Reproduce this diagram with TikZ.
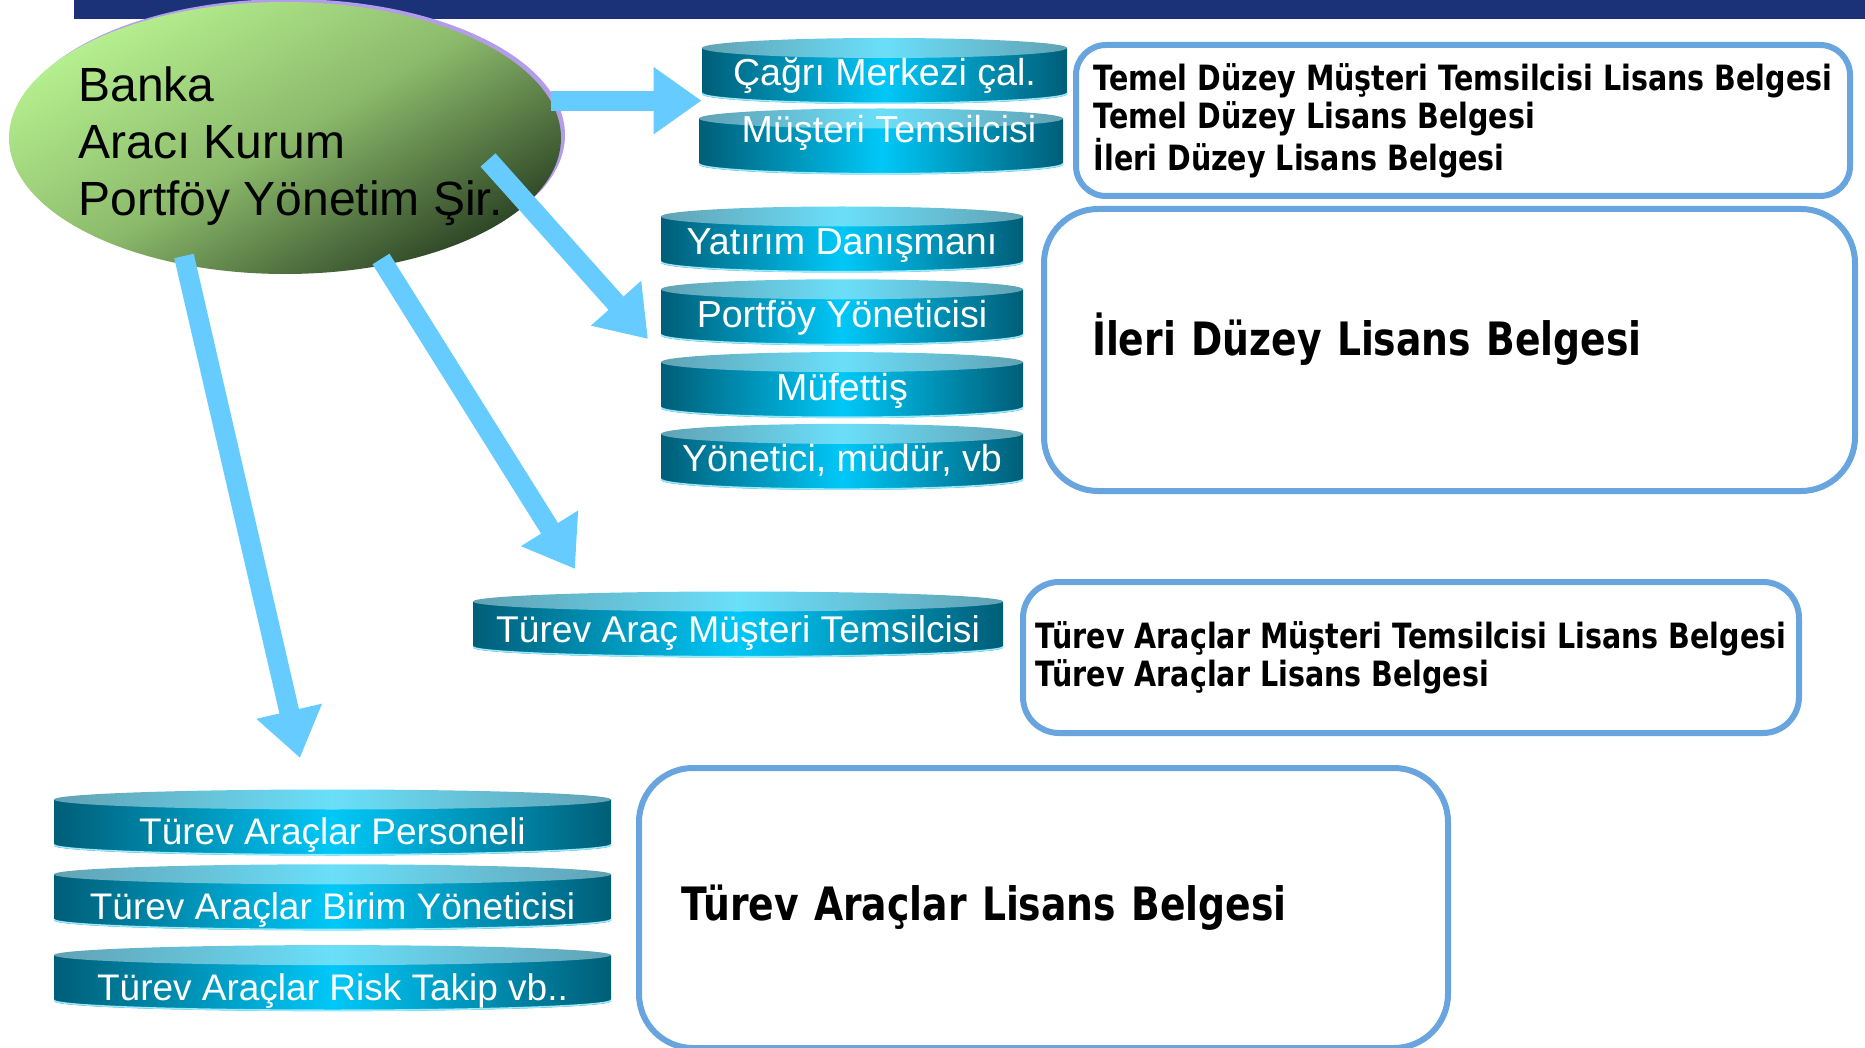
\documentclass[tikz,border=0pt]{standalone}
\usepackage{fontspec}
\setmainfont{Liberation Sans}
\newfontfamily\boxfont[FakeStretch=0.82]{DejaVu Sans}
\usetikzlibrary{positioning,shapes.geometric,arrows.meta,calc}

\definecolor{navy}{HTML}{1B3279}
\definecolor{arrowblue}{HTML}{66CCFF}
\definecolor{boxblue}{HTML}{68A4DE}
\definecolor{tealdark}{HTML}{005E78}
\definecolor{tealmid}{HTML}{00C8F8}
\definecolor{capdark}{HTML}{62A2B4}
\definecolor{caplight}{HTML}{6ADFF9}
\definecolor{greenlight}{HTML}{B6F090}
\definecolor{greenmid}{HTML}{8CBA6B}
\definecolor{greendark}{HTML}{2C4425}
\definecolor{rim}{HTML}{B39DEB}

\begin{document}
\begin{tikzpicture}[x=0.5pt, y=-0.5pt,
	disk/.style={minimum width=181pt, minimum height=33pt, inner sep=0pt, text=white,
		text height=15pt, text depth=0pt, font=\fontsize{18.8}{22}\selectfont,
		path picture={
			\path[left color=tealdark, right color=tealdark, middle color=tealmid]
				let \p1=(path picture bounding box.south west), \p2=(path picture bounding box.north east),
				\n1={(\x2-\x1)/2} in
				(\x1,\y2-5pt) -- (\x1,\y1+5pt) arc[start angle=180, end angle=360, x radius=\n1, y radius=5pt]
				-- (\x2,\y2-5pt) -- cycle;
			\draw[caplight!70!white, line width=0.8pt]
				let \p1=(path picture bounding box.south west), \p2=(path picture bounding box.north east),
				\n1={(\x2-\x1)/2} in
				(\x1,\y1+5.4pt) arc[start angle=180, end angle=360, x radius=\n1, y radius=5pt];
			\path[left color=capdark, right color=capdark, middle color=caplight]
				let \p1=(path picture bounding box.south west), \p2=(path picture bounding box.north east),
				\n1={(\x2-\x1)/2} in
				(\x1+\n1,\y2-5pt) ellipse[x radius=\n1, y radius=5pt];
		}},
	lowdisk/.style={disk, minimum width=278.5pt, text height=22pt, font=\fontsize{18.5}{22}\selectfont},
	licbox/.style={anchor=north west, draw=boxblue, line width=3pt, align=left, inner sep=0pt,
		font=\boxfont\bfseries\fontsize{17.4}{19}\selectfont},
	bigbox/.style={licbox, rounded corners=27pt, font=\boxfont\bfseries\fontsize{23}{27}\selectfont},
	bigarrow/.style={draw=arrowblue, line width=10pt, -{Triangle[length=24pt, width=32pt]}}]

	\useasboundingbox (0,0) rectangle (1865,1048);
	\fill[navy] (74,0) rectangle (1865,19);

	% top left ellipse
	\fill[rim] (289,135) ellipse[x radius=138pt, y radius=68pt];
	\node[ellipse, minimum width=276pt, minimum height=136pt, inner sep=0pt,
		top color=greenlight, bottom color=greendark, middle color=greenmid, shading angle=30] (banka) at (285,138) {};
	\node[anchor=west, align=left, inner sep=0pt, font=\fontsize{24}{28.5}\selectfont] (bankatext) at (78,146)
		{Banka\\Aracı Kurum\\Portföy Yönetim Şir.};

	% disks
	\node[disk, minimum width=182.5pt] (cagri) at (884.5,71) {Çağrı Merkezi çal.};
	\node[disk, minimum width=182pt, text height=1pt] (musteri) at (881,141.5) {\hspace*{8pt}Müşteri Temsilcisi};

	\node[disk] (yatirim) at (842,239.5) {Yatırım Danışmanı};
	\node[disk, below=3pt of yatirim] (portfoy) {Portföy Yöneticisi};
	\node[disk, below=3pt of portfoy] (mufettis) {Müfettiş};
	\node[disk, below=2.5pt of mufettis] (yonetici) {Yönetici, müdür, vb};

	\node[disk, minimum width=265pt, text height=18pt, font=\fontsize{18.6}{22}\selectfont] (turevmt) at (738,624.5)
		{Türev Araç Müşteri Temsilcisi};

	\node[lowdisk] (personel) at (332.5,822.5) {Türev Araçlar Personeli};
	\node[lowdisk, below=4pt of personel] (birim) {Türev Araçlar Birim Yöneticisi};
	\node[lowdisk, below=7pt of birim] (risk) {Türev Araçlar Risk Takip vb..};

	% boxes
	\node[licbox, rounded corners=15pt, minimum width=387pt, minimum height=75.5pt] (temel) at (1073,42)
		{Temel Düzey Müşteri Temsilcisi Lisans Belgesi\\Temel Düzey Lisans Belgesi\\İleri Düzey Lisans Belgesi};
	\node[bigbox, minimum width=405.5pt, minimum height=141pt, text width=357.5pt,
		text height=6pt, text depth=0pt] (ileri) at (1041,206)
		{İleri Düzey Lisans Belgesi};
	\node[licbox, rounded corners=18pt, minimum width=388pt, minimum height=75.5pt] (turevlb) at (1020,579)
		{Türev Araçlar Müşteri Temsilcisi Lisans Belgesi\\Türev Araçlar Lisans Belgesi};
	\node[bigbox, minimum width=404.5pt, minimum height=140pt, text width=362.5pt] (turevbig) at (636,765)
		{Türev Araçlar Lisans Belgesi};

	% arrows
	\coordinate (s2) at (488,160);
	\coordinate (t2) at (648,339);
	\coordinate (s3) at (381,259);
	\coordinate (t3) at (575,569);
	\coordinate (s4) at (184,256);
	\coordinate (t4) at (300,758);
	\draw[bigarrow] (banka.8) -- (banka.8 -| cagri.west);
	\draw[bigarrow] (s2) -- (t2);
	\draw[bigarrow] (s3) -- (t3);
	\draw[bigarrow] (s4) -- (t4);
\end{tikzpicture}
\end{document}
